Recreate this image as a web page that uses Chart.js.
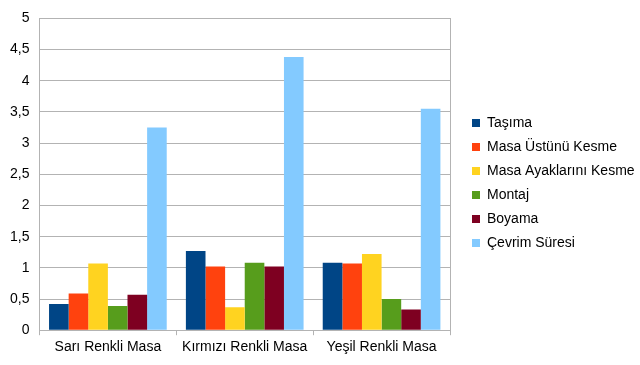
<!DOCTYPE html>
<html>
<head>
<meta charset="utf-8">
<script src="https://cdn.jsdelivr.net/npm/chart.js@4"></script>
<style>
    html, body { margin: 0; padding: 0; background: #fff; }
    #wrap { width: 640px; height: 365px; }
</style>
</head>
<body>
<div id="wrap"><canvas id="chart"></canvas></div>
<script>
// Categories and series
const categories = ['Sarı Renkli Masa', 'Kırmızı Renkli Masa', 'Yeşil Renkli Masa'];
const tasima = [0.42, 1.27, 1.08];
const masaUstunuKesme = [0.59, 1.02, 1.07];
const masaAyaklariniKesme = [1.07, 0.37, 1.22];
const montaj = [0.39, 1.08, 0.50];
const boyama = [0.57, 1.02, 0.33];
const cevrimSuresi = [3.25, 4.38, 3.55];

const seriesNames = ['Taşıma', 'Masa Üstünü Kesme', 'Masa Ayaklarını Kesme', 'Montaj', 'Boyama', 'Çevrim Süresi'];
const seriesValues = [tasima, masaUstunuKesme, masaAyaklariniKesme, montaj, boyama, cevrimSuresi];
const seriesColors = ['#004586', '#ff420e', '#ffd320', '#579d1c', '#7e0021', '#83caff'];

Chart.defaults.font.family = '"Liberation Sans", Arial, sans-serif';
Chart.defaults.font.size = 14;
Chart.defaults.color = '#000';

const ctx = document.getElementById('chart').getContext('2d');
new Chart(ctx, {
    type: 'bar',
    data: {
        labels: categories,
        datasets: seriesNames.map((name, i) => ({
            label: name,
            data: seriesValues[i],
            backgroundColor: seriesColors[i],
            borderWidth: 0,
            barPercentage: 1,
            categoryPercentage: 0.86
        }))
    },
    options: {
        responsive: true,
        maintainAspectRatio: false,
        animation: false,
        layout: { padding: { top: 6, right: 0, left: 0, bottom: 5 } },
        plugins: {
            legend: {
                position: 'right',
                maxWidth: 178,
                labels: {
                    boxWidth: 8,
                    boxHeight: 8,
                    padding: 10,
                    font: { size: 14 }
                }
            },
            tooltip: { enabled: false }
        },
        scales: {
            x: {
                grid: {
                    offset: true,
                    drawOnChartArea: false,
                    tickLength: 5,
                    color: '#b3b3b3'
                },
                border: { color: '#b3b3b3' },
                ticks: { padding: 4 }
            },
            y: {
                min: 0,
                max: 5,
                ticks: {
                    stepSize: 0.5,
                    padding: 10,
                    callback: v => v.toString().replace('.', ',')
                },
                grid: { color: '#b3b3b3', tickLength: 0 },
                border: { color: '#b3b3b3' }
            },
            // right-hand frame line of the plot area
            y2: {
                position: 'right',
                min: 0,
                max: 5,
                ticks: { display: false },
                grid: { drawOnChartArea: false, tickLength: 0 },
                border: { color: '#b3b3b3' },
                afterFit: scale => { scale.width = 12; }
            }
        }
    }
});
</script>
</body>
</html>
